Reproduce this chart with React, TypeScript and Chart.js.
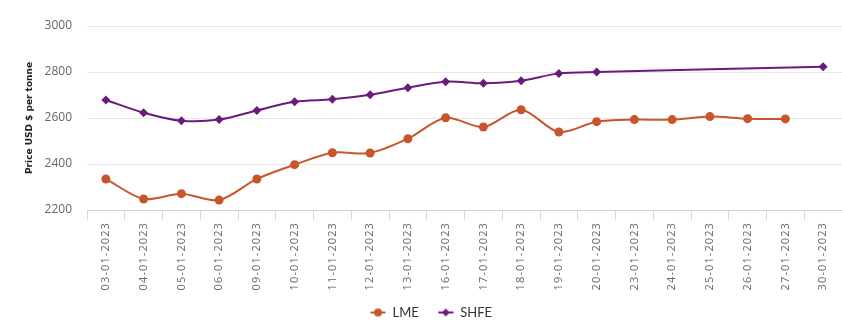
import React, { useEffect, useRef } from "react";
import { Chart, registerables } from "chart.js";

Chart.register(...registerables);

const dates = [
  "03-01-2023", "04-01-2023", "05-01-2023", "06-01-2023", "09-01-2023",
  "10-01-2023", "11-01-2023", "12-01-2023", "13-01-2023", "16-01-2023",
  "17-01-2023", "18-01-2023", "19-01-2023", "20-01-2023", "23-01-2023",
  "24-01-2023", "25-01-2023", "26-01-2023", "27-01-2023", "30-01-2023",
];

const lmePrices: (number | null)[] = [
  2335, 2248, 2271, 2243, 2335, 2397, 2449, 2448, 2510, 2601,
  2561, 2636, 2539, 2584, 2593, 2593, 2606, 2597, 2596, null,
];

const shfePrices: (number | null)[] = [
  2678, 2623, 2588, 2593, 2633, 2671, 2681, 2701, 2732, 2758,
  2751, 2762, 2794, 2800, null, null, null, null, null, 2823,
];

const yTicks = [2200, 2400, 2600, 2800, 3000];

const LME_COLOR = "#c8562c";
const SHFE_COLOR = "#6a1b7c";

// Small legend swatch: a short line with the series marker on top.
function makeSwatch(color: string, shape: "circle" | "diamond") {
  const c = document.createElement("canvas");
  c.width = 16;
  c.height = 10;
  const ctx = c.getContext("2d")!;
  ctx.strokeStyle = color;
  ctx.fillStyle = color;
  ctx.lineWidth = 2;
  ctx.beginPath();
  ctx.moveTo(0.5, 5);
  ctx.lineTo(15.5, 5);
  ctx.stroke();
  ctx.beginPath();
  if (shape === "circle") {
    ctx.arc(8, 5, 4, 0, Math.PI * 2);
  } else {
    ctx.moveTo(8, 1);
    ctx.lineTo(12, 5);
    ctx.lineTo(8, 9);
    ctx.lineTo(4, 5);
    ctx.closePath();
  }
  ctx.fill();
  return c;
}

// Spaced-out x-axis date labels, allowed to run past the axis box.
const spacedXLabels = {
  id: "spacedXLabels",
  beforeDraw(chart: any) {
    const xs = chart.scales.x;
    if (!xs || xs.__spaced) return;
    const orig = xs.drawLabels.bind(xs);
    xs._computeLabelArea = () => undefined;
    xs.drawLabels = (area: any) => {
      const ctx = chart.ctx as any;
      ctx.save();
      ctx.letterSpacing = "1.1px";
      orig(area);
      ctx.restore();
    };
    xs.__spaced = true;
  },
};

export default function App() {
  const ref = useRef<HTMLCanvasElement | null>(null);

  useEffect(() => {
    document.body.style.margin = "0";
    const swatches = [makeSwatch(LME_COLOR, "circle"), makeSwatch(SHFE_COLOR, "diamond")];
    const chart = new Chart(ref.current!, {
      type: "line",
      data: {
        labels: dates,
        datasets: [
          {
            label: "LME",
            data: lmePrices,
            borderColor: LME_COLOR,
            backgroundColor: LME_COLOR,
            borderWidth: 2,
            pointStyle: "circle",
            pointRadius: 4.5,
            pointBorderWidth: 0,
            tension: 0.3,
            spanGaps: true,
          },
          {
            label: "SHFE",
            data: shfePrices,
            borderColor: SHFE_COLOR,
            backgroundColor: SHFE_COLOR,
            borderWidth: 2,
            pointStyle: "rectRot",
            pointRadius: 4.5,
            pointBorderWidth: 0,
            tension: 0.3,
            spanGaps: true,
          },
        ],
      },
      options: {
        animation: false,
        responsive: true,
        maintainAspectRatio: false,
        layout: { autoPadding: false, padding: { top: 26, right: 0, bottom: 4, left: 20 } },
        scales: {
          x: {
            offset: true,
            grid: {
              offset: true,
              drawOnChartArea: false,
              drawTicks: true,
              tickLength: 10,
              color: "#d8d8d8",
            },
            border: { display: true, color: "#d0d0d0" },
            ticks: {
              autoSkip: false,
              maxRotation: 90,
              minRotation: 90,
              padding: 2,
              color: "#666666",
              font: { family: "'Open Sans'", size: 11 },
            },
            afterFit(scale: any) {
              scale.height = 77;
              scale.paddingLeft = 0;
              scale.paddingRight = 0;
            },
          },
          y: {
            min: 2200,
            max: 3000,
            afterBuildTicks(scale: any) {
              scale.ticks = yTicks.map((v) => ({ value: v }));
            },
            grid: { drawTicks: false, color: "#e6e6e6" },
            border: { display: false },
            ticks: {
              padding: 15,
              color: "#666666",
              font: { family: "'Open Sans'", size: 12 },
              callback: (v: any) => String(v),
            },
            title: {
              display: true,
              text: "Price USD $ per tonne",
              color: "#222222",
              padding: { top: 4, bottom: 0 },
              font: { family: "'DejaVu Sans'", size: 9, weight: "bold" },
            },
            afterFit(scale: any) {
              scale.width = 67;
            },
          },
        },
        plugins: {
          tooltip: { enabled: false },
          legend: {
            position: "bottom",
            labels: {
              usePointStyle: true,
              pointStyleWidth: 16,
              padding: 19,
              color: "#333333",
              font: { family: "Lato", size: 13 },
              generateLabels(c: any) {
                const items = Chart.defaults.plugins.legend.labels.generateLabels(c);
                return items.map((it: any, i: number) => ({ ...it, pointStyle: swatches[i] }));
              },
            },
          },
        },
      },
      plugins: [spacedXLabels],
    } as any);
    return () => chart.destroy();
  }, []);

  return (
    <div style={{ position: "fixed", left: 0, top: 0, width: 842, height: 333, background: "#fff" }}>
      <canvas ref={ref} />
    </div>
  );
}
